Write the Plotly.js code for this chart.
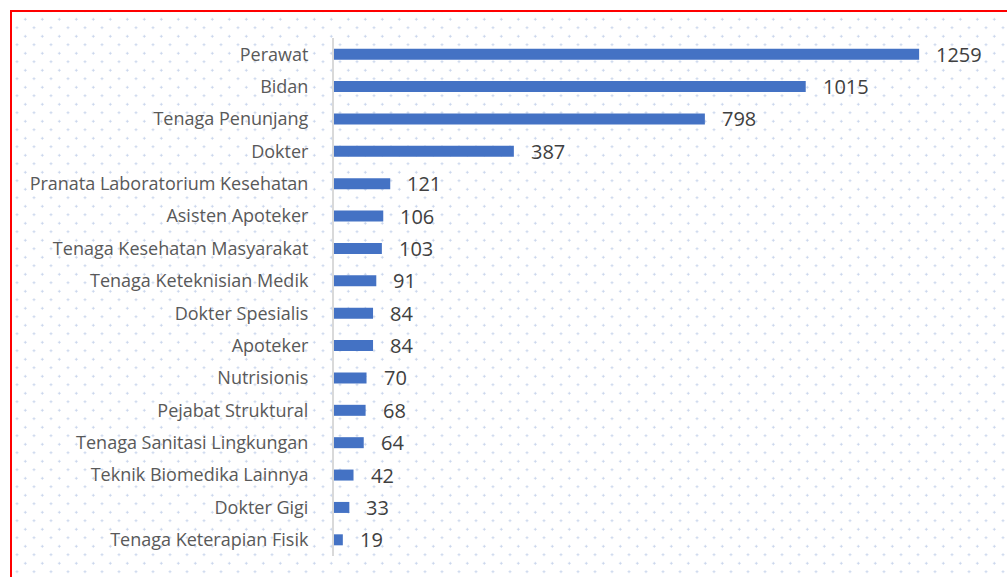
<!DOCTYPE html>
<html>
<head>
<meta charset="utf-8">
<script src="https://cdn.plot.ly/plotly-3.0.1.min.js"></script>
<style>
  html, body { margin:0; padding:0; background:#ffffff; width:1007px; height:577px; overflow:hidden; }
  #frame {
    position:absolute; left:10px; top:10px; width:1000px; height:580px;
    border-top:2px solid #ff0000; border-left:2px solid #ff0000;
    background-color:#ffffff;
    background-image: radial-gradient(circle, #c6d3eb 0.9px, rgba(255,255,255,0) 1.4px),
                      radial-gradient(circle, #c6d3eb 0.9px, rgba(255,255,255,0) 1.4px);
    background-size:17px 17px, 17px 17px;
    background-position:-8.5px 2.2px, -0.2px -6.2px;
    background-attachment:fixed;
  }
  #chart { position:absolute; left:0; top:0; width:1007px; height:577px; }
</style>
</head>
<body>
<div id="frame"></div>
<div id="chart"></div>
<script>
const categories = [
  "Perawat", "Bidan", "Tenaga Penunjang", "Dokter",
  "Pranata Laboratorium Kesehatan", "Asisten Apoteker",
  "Tenaga Kesehatan Masyarakat", "Tenaga Keteknisian Medik",
  "Dokter Spesialis", "Apoteker", "Nutrisionis", "Pejabat Struktural",
  "Tenaga Sanitasi Lingkungan", "Teknik Biomedika Lainnya",
  "Dokter Gigi", "Tenaga Keterapian Fisik"
];
const values = [1259, 1015, 798, 387, 121, 106, 103, 91, 84, 84, 70, 68, 64, 42, 33, 19];

const trace = {
  type: "bar",
  orientation: "h",
  x: values,
  y: categories,
  marker: { color: "#4472C4" },
  hoverinfo: "x+y"
};

const annotations = values.map((v, i) => ({
  x: v, y: categories[i], xref: "x", yref: "y",
  text: String(v), showarrow: false,
  xanchor: "left", yanchor: "middle", xshift: 15,
  font: { family: "Open Sans, sans-serif", size: 20, color: "#404040" }
}));

const layout = {
  width: 1007, height: 577,
  margin: { l: 334, r: 7, t: 38, b: 21 },
  paper_bgcolor: "rgba(0,0,0,0)",
  plot_bgcolor: "rgba(0,0,0,0)",
  bargap: 0.66,
  showlegend: false,
  xaxis: {
    range: [0, 1433], showgrid: false, zeroline: false,
    showticklabels: false, showline: false, fixedrange: true
  },
  yaxis: {
    autorange: "reversed", type: "category",
    showline: true, linecolor: "#d9d9d9", linewidth: 2,
    showgrid: false, zeroline: false, ticks: "",
    ticklabelstandoff: 20,
    tickfont: { family: "Open Sans, sans-serif", size: 18, color: "#595959" }
  },
  annotations: annotations
};

Plotly.newPlot("chart", [trace], layout, { displayModeBar: false, staticPlot: true });
</script>
</body>
</html>
